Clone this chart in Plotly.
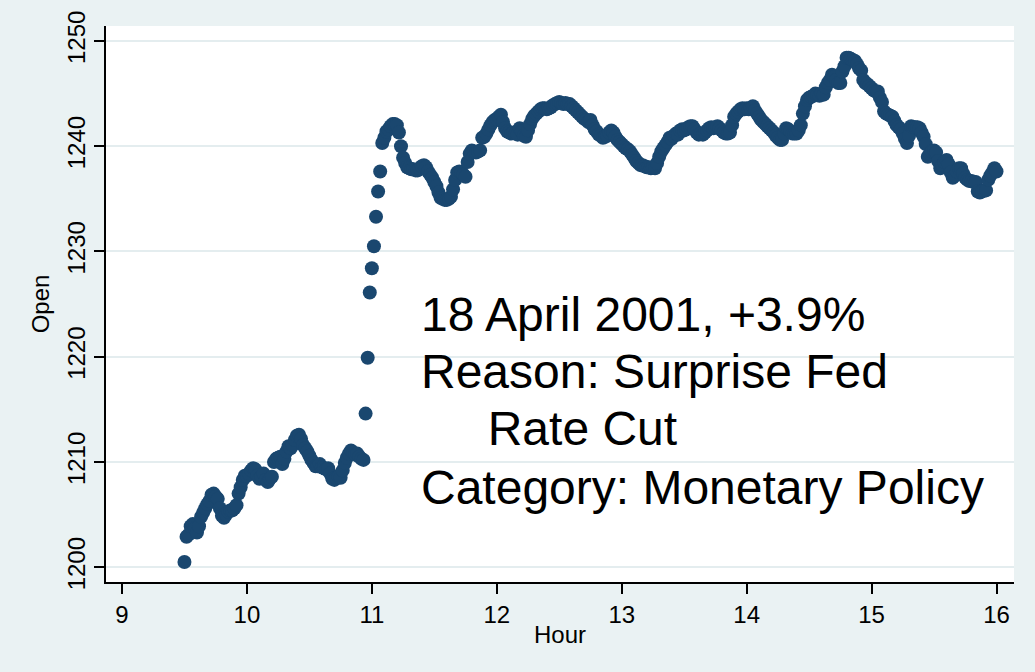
import plotly.graph_objects as go

# Minutes after 9:30 (one reading per minute, 9:30 -> 16:00)
open_values = [
    # 9:30 - 9:59
    1200.5, 1202.9, 1203.1, 1203.9, 1204.1, 1203.7, 1203.3, 1203.9, 1204.8, 1205.2,
    1205.6, 1206.0, 1206.3, 1206.9, 1207.0, 1206.7, 1206.5, 1205.6, 1204.9, 1204.7,
    1205.0, 1205.3, 1205.4, 1205.4, 1205.6, 1205.9, 1207.0, 1207.6, 1208.3, 1208.7,
    # 10:00 - 10:29
    1208.7, 1208.9, 1209.2, 1209.4, 1209.3, 1208.7, 1208.4, 1208.6, 1208.9, 1208.3,
    1208.1, 1208.4, 1208.6, 1210.0, 1210.3, 1210.4, 1210.5, 1209.8, 1210.3, 1211.0,
    1211.5, 1211.3, 1211.6, 1212.1, 1212.5, 1212.6, 1212.2, 1211.6, 1211.3, 1211.0,
    # 10:30 - 10:59
    1210.6, 1210.2, 1209.9, 1209.6, 1209.6, 1209.8, 1209.5, 1209.4, 1209.3, 1209.4,
    1208.9, 1208.4, 1208.3, 1208.5, 1208.6, 1208.5, 1209.2, 1209.9, 1210.4, 1210.8,
    1211.1, 1210.9, 1210.7, 1210.8, 1210.5, 1210.3, 1210.2, 1214.6, 1219.9, 1226.1,
    # 11:00 - 11:29
    1228.4, 1230.5, 1233.3, 1235.7, 1237.6, 1240.3, 1240.8, 1241.4, 1241.6, 1241.9,
    1242.1, 1242.1, 1242.0, 1241.3, 1240.0, 1238.9, 1238.4, 1238.0, 1237.9, 1237.8,
    1237.8, 1237.7, 1237.7, 1237.9, 1238.1, 1238.2, 1238.0, 1237.6, 1237.3, 1237.0,
    # 11:30 - 11:59
    1236.6, 1236.2, 1235.6, 1235.1, 1235.0, 1234.9, 1234.9, 1235.0, 1235.2, 1235.9,
    1236.8, 1237.5, 1237.6, 1237.5, 1237.3, 1237.1, 1238.5, 1239.3, 1239.6, 1239.5,
    1239.4, 1239.5, 1239.6, 1240.8, 1240.9, 1241.2, 1241.6, 1242.0, 1242.3, 1242.5,
    # 12:00 - 12:29
    1242.6, 1242.8, 1243.0, 1242.3, 1241.7, 1241.4, 1241.3, 1241.2, 1241.3, 1241.2,
    1241.1, 1241.7, 1241.4, 1241.0, 1240.9, 1241.5, 1242.1, 1242.6, 1242.9, 1243.1,
    1243.3, 1243.5, 1243.6, 1243.6, 1243.5, 1243.6, 1243.7, 1243.9, 1244.0, 1244.1,
    # 12:30 - 12:59
    1244.2, 1244.1, 1244.0, 1244.1, 1244.0, 1244.0, 1243.8, 1243.6, 1243.4, 1243.2,
    1243.0, 1242.8, 1242.6, 1242.5, 1242.3, 1242.5, 1242.0, 1241.6, 1241.4, 1241.1,
    1241.0, 1240.8, 1240.9, 1241.0, 1241.3, 1241.5, 1241.3, 1240.9, 1240.6, 1240.4,
    # 13:00 - 13:29
    1240.2, 1240.0, 1239.8, 1239.7, 1239.5, 1239.2, 1238.9, 1238.6, 1238.4, 1238.2,
    1238.2, 1238.1, 1238.0, 1238.0, 1237.9, 1238.0, 1237.9, 1238.4, 1239.0, 1239.5,
    1239.8, 1240.1, 1240.4, 1240.8, 1240.7, 1241.0, 1241.2, 1241.1, 1241.5, 1241.6,
    # 13:30 - 13:59
    1241.5, 1241.6, 1241.8, 1241.9, 1241.9, 1241.6, 1241.3, 1241.1, 1241.2, 1241.1,
    1241.3, 1241.5, 1241.7, 1241.8, 1241.7, 1241.8, 1241.9, 1241.7, 1241.5, 1241.3,
    1241.2, 1241.2, 1241.3, 1242.0, 1242.8, 1243.1, 1243.3, 1243.5, 1243.6, 1243.5,
    # 14:00 - 14:29
    1243.6, 1243.5, 1243.6, 1243.8, 1243.4, 1243.1, 1242.8, 1242.5, 1242.3, 1242.1,
    1241.9, 1241.7, 1241.5, 1241.3, 1241.0, 1240.8, 1240.6, 1240.6, 1241.2, 1241.7,
    1241.6, 1241.4, 1241.2, 1241.2, 1241.2, 1241.5, 1242.0, 1243.1, 1243.8, 1244.4,
    # 14:30 - 14:59
    1244.6, 1244.7, 1244.8, 1245.0, 1244.9, 1244.8, 1245.0, 1244.9, 1245.6, 1246.0,
    1246.3, 1246.8, 1246.6, 1246.3, 1246.0, 1246.0, 1247.1, 1247.6, 1248.4, 1248.4,
    1248.3, 1248.2, 1248.1, 1247.8, 1247.4, 1247.2, 1246.3, 1246.0, 1245.9, 1245.7,
    # 15:00 - 15:29
    1245.5, 1245.3, 1245.2, 1245.2, 1244.6, 1244.2, 1243.3, 1243.1, 1243.0, 1242.9,
    1242.8, 1242.4, 1242.0, 1241.8, 1241.6, 1241.2, 1240.7, 1240.3, 1241.0, 1241.9,
    1241.8, 1241.8, 1241.8, 1241.7, 1241.3, 1240.9, 1240.2, 1239.0, 1239.3, 1239.5,
    # 15:30 - 16:00
    1239.6, 1239.4, 1238.6, 1237.9, 1238.2, 1238.5, 1238.7, 1238.3, 1237.5, 1237.0,
    1237.2, 1237.6, 1237.9, 1237.9, 1237.4, 1237.0, 1236.8, 1236.7, 1236.7, 1236.6,
    1236.6, 1235.7, 1235.6, 1235.7, 1235.8, 1235.8, 1236.8, 1237.2, 1237.5, 1237.9,
    1237.6,
]
start_hour = 9.5
hours = [start_hour + i / 60 for i in range(len(open_values))]

x_ticks = [9, 10, 11, 12, 13, 14, 15, 16]
y_ticks = [1200, 1210, 1220, 1230, 1240, 1250]

note_lines = [
    "18 April 2001, +3.9%",
    "Reason: Surprise Fed",
    "&nbsp;&nbsp;&nbsp;&nbsp;&nbsp;Rate Cut",
    "Category: Monetary Policy",
]
note_y = [1224.0, 1218.6, 1213.2, 1207.6]
note_x = 11.38

BG = "#EAF2F3"
NAVY = "#1A476F"
FONT = "Liberation Sans, Arial, Helvetica, sans-serif"

fig = go.Figure()
fig.add_trace(go.Scatter(
    x=hours, y=open_values, mode="markers",
    marker=dict(color=NAVY, size=14, line=dict(width=0)),
    showlegend=False,
))

for line, yv in zip(note_lines, note_y):
    fig.add_annotation(
        x=note_x, y=yv, xref="x", yref="y",
        text=line, showarrow=False,
        xanchor="left", yanchor="middle", align="left",
        font=dict(family=FONT, size=48, color="black"),
    )

fig.update_layout(
    width=1035, height=672,
    margin=dict(l=106, r=21, t=26, b=90),
    paper_bgcolor=BG, plot_bgcolor="white",
    font=dict(family=FONT, color="black"),
    xaxis=dict(
        range=[8.872, 16.14], tickvals=x_ticks, ticktext=[str(v) for v in x_ticks],
        showgrid=False, zeroline=False,
        showline=True, linecolor="black", linewidth=1.5,
        ticks="outside", ticklen=10, tickwidth=1.5, tickcolor="black",
        tickfont=dict(size=24),
        title=dict(text="Hour", font=dict(size=24), standoff=0),
    ),
    yaxis=dict(
        range=[1198.6, 1251.42], tickvals=y_ticks, ticktext=[str(v) for v in y_ticks],
        tickangle=-90,
        showgrid=True, gridcolor="#E4EDEF", gridwidth=1.5, zeroline=False,
        showline=True, linecolor="black", linewidth=1.5,
        ticks="outside", ticklen=10, tickwidth=1.5, tickcolor="black",
        tickfont=dict(size=24),
        title=dict(text="Open", font=dict(size=24), standoff=6),
    ),
)

fig.write_html(
    "out.html",
    config={"displayModeBar": False},
    post_script="document.body.style.margin='0';",
)
